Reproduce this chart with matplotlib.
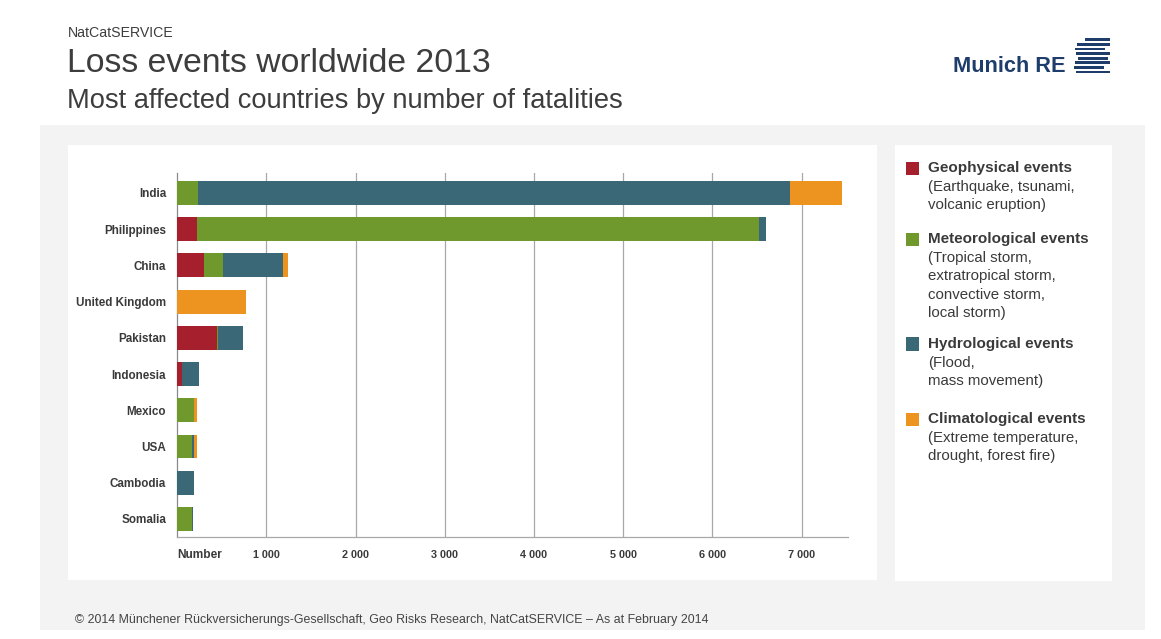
import matplotlib
matplotlib.use("Agg")
import matplotlib.pyplot as plt
from matplotlib.patches import Rectangle
import numpy as np

# ---- data ----
countries = ["India", "Philippines", "China", "United Kingdom", "Pakistan",
             "Indonesia", "Mexico", "USA", "Cambodia", "Somalia"]
geophysical    = [0,   217, 303, 0,   441, 56,  0,   0,   0,   0]
meteorological = [230, 6308, 213, 0,  19,  0,   187, 168, 0,   168]
hydrological   = [6640, 75, 666, 0,   280, 184, 0,   19,  184, 12]
climatological = [585, 0,   56,  770, 0,   0,   34,  34,  0,   0]

series_names = ["Geophysical events", "Meteorological events",
                "Hydrological events", "Climatological events"]
series_desc = ["(Earthquake, tsunami,\nvolcanic eruption)",
               "(Tropical storm,\nextratropical storm,\nconvective storm,\nlocal storm)",
               "(Flood,\nmass movement)",
               "(Extreme temperature,\ndrought, forest fire)"]
colors = ["#a51f2d", "#6f992c", "#3a6876", "#ec9320"]

xticks = [0, 1000, 2000, 3000, 4000, 5000, 6000, 7000]
xticklabels = ["Number", "1 000", "2 000", "3 000", "4 000", "5 000", "6 000", "7 000"]

# ---- figure ----
W, H = 1161, 639
fig = plt.figure(figsize=(W / 100, H / 100), dpi=100, facecolor="white")
plt.rcParams["font.family"] = ["Liberation Sans", "DejaVu Sans"]

def fx(x): return x / W
def fy(y): return 1 - y / H

def box(x0, y0, x1, y1, color, z=0):
    fig.patches.append(Rectangle((fx(x0), fy(y1)), fx(x1) - fx(x0), fy(y0) - fy(y1),
                                 transform=fig.transFigure, facecolor=color,
                                 edgecolor="none", zorder=z))

box(40, 125, 1145, 630, "#f3f3f3", 0)
box(68, 145, 877, 580, "white", 1)
box(895, 145, 1112, 581, "white", 1)

# header texts
tc = "#3d3d3d"
fig.text(fx(68), fy(33), "NatCatSERVICE", fontsize=10.2, color=tc, va="center", ha="left")
fig.text(fx(67), fy(64), "Loss events worldwide 2013", fontsize=24.3, color=tc, va="center", ha="left")
fig.text(fx(67), fy(101), "Most affected countries by number of fatalities", fontsize=19.6, color=tc,
         va="center", ha="left")
fig.text(fx(75), fy(620), "\u00a9 2014 M\u00fcnchener R\u00fcckversicherungs-Gesellschaft, Geo Risks Research, "
         "NatCatSERVICE \u2013 As at February 2014", fontsize=8.9, color="#444444", va="center", ha="left")

# logo
logo_c = "#1f3d6b"
fig.text(fx(953), fy(67), "Munich RE", fontsize=15.7, fontweight="bold", color=logo_c, va="center", ha="left")
stripes = [(1085, 1110), (1077, 1110), (1075, 1105), (1076, 1110),
           (1078, 1108), (1075, 1110), (1074, 1104), (1076, 1110)]
for i, (a, b) in enumerate(stripes):
    y = 38.5 + i * 4.6
    box(a, y, b, y + 2.6, logo_c, 3)

# ---- axes ----
ax = fig.add_axes([fx(177.3), fy(537), fx(848) - fx(177.3), fy(173) - fy(537)])
ax.set_zorder(5)
ax.patch.set_alpha(0)
y = np.arange(len(countries))
left = np.zeros(len(countries))
for vals, c in zip([geophysical, meteorological, hydrological, climatological], colors):
    ax.barh(y, vals, left=left, height=0.66, color=c, edgecolor="none", zorder=3)
    left += np.array(vals)

ax.set_xlim(0, 7520)
ax.set_ylim(9.5, -0.55)
ax.set_yticks(y)
ax.set_yticklabels(countries, fontsize=8.4, fontweight="bold", color="#3a3a3a")
ax.set_xticks(xticks)
ax.set_xticklabels(xticklabels, fontsize=7.8, fontweight="bold", color="#3a3a3a")
ax.get_xticklabels()[0].set_ha("left")
ax.get_xticklabels()[0].set_fontsize(8.6)
ax.tick_params(axis="both", length=0)
ax.tick_params(axis="x", pad=9)
ax.tick_params(axis="y", pad=8)
for xv in xticks[1:]:
    ax.axvline(xv, color="#a8a8a8", lw=0.9, zorder=1)
for s in ["top", "right"]:
    ax.spines[s].set_visible(False)
ax.spines["left"].set_color("#8a8a8a")
ax.spines["bottom"].set_color("#a8a8a8")
ax.spines["left"].set_linewidth(0.9)
ax.spines["bottom"].set_linewidth(0.9)

# ---- legend ----
title_y = [168, 239, 344, 419]
line_h = 18.6
for name, desc, c, ty in zip(series_names, series_desc, colors, title_y):
    box(906, ty - 6.5, 919, ty + 6.5, c, 3)
    fig.text(fx(928), fy(ty), name, fontsize=11, fontweight="bold", color="#3a3a3a",
             va="center", ha="left", zorder=4)
    for k, ln in enumerate(desc.split("\n")):
        fig.text(fx(928), fy(ty + line_h * (k + 1)), ln, fontsize=10.8, color="#3a3a3a",
                 va="center", ha="left", zorder=4)

fig.savefig("out.png", dpi=100, facecolor="white")
